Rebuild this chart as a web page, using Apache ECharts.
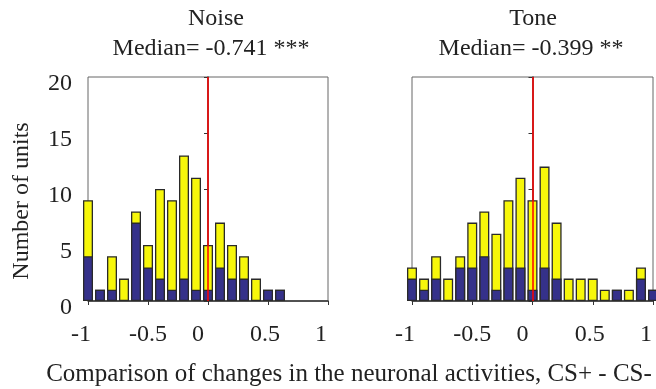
<!DOCTYPE html>
<html>
<head>
<meta charset="utf-8">
<script src="https://cdn.jsdelivr.net/npm/echarts@6/dist/echarts.min.js"></script>
<style>
  html, body { margin: 0; padding: 0; background: #fff; }
  #chart { width: 656px; height: 389px; }
</style>
</head>
<body>
<div id="chart"></div>
<script>
// bin centres and counts (yellow = all units, navy = part of them)
const noiseBins = [-1, -0.9, -0.8, -0.7, -0.6, -0.5, -0.4, -0.3, -0.2, -0.1, 0, 0.1, 0.2, 0.3, 0.4, 0.5, 0.6];
const noiseTotal = [9, 1, 4, 2, 8, 5, 10, 9, 13, 11, 5, 7, 5, 4, 2, 1, 1];
const noiseNavy = [4, 1, 1, 0, 7, 3, 2, 1, 2, 1, 1, 3, 2, 2, 0, 1, 1];

const toneBins = [-1, -0.9, -0.8, -0.7, -0.6, -0.5, -0.4, -0.3, -0.2, -0.1, 0, 0.1, 0.2, 0.3, 0.4, 0.5, 0.6, 0.7, 0.8, 0.9, 1];
const toneTotal = [3, 2, 4, 2, 4, 7, 8, 6, 9, 11, 9, 12, 7, 2, 2, 2, 1, 1, 1, 3, 1];
const toneNavy = [2, 1, 2, 0, 3, 3, 4, 1, 3, 3, 1, 3, 2, 0, 0, 0, 0, 1, 0, 2, 1];

const xTickLabels = ["-1", "-0.5", "0", "0.5", "1"];
const yTickLabels = ["0", "5", "10", "15", "20"];
const refLine = 0;

const titles = ["Noise", "Tone"];
const medians = ["Median= -0.741 ***", "Median= -0.399 **"];

const font = "'Liberation Serif', 'DejaVu Serif', serif";
const fs = 24;
const yellow = "#f7f70a";
const navy = "#35318a";
const edge = "#2a2a2a";

// the original tick labels sit a little off their ticks
const labelShift = [-7, 0, -10, -3, -7];
const rich = {};
labelShift.forEach((d, i) => {
  rich["s" + i] = {
    fontFamily: font, fontSize: fs, color: "#222",
    padding: d < 0 ? [0, -2 * d, 0, 0] : [0, 0, 0, 2 * d]
  };
});
const yRich = {
  t: { fontFamily: font, fontSize: fs, color: "#222", padding: [14, 0, 0, 0] }
};

function pairs(bins, vals) {
  return bins.map((b, i) => [b, vals[i] === 0 ? null : vals[i]]);
}

function xAxis(gi) {
  return {
    gridIndex: gi, type: "value", min: -1, max: 1, interval: 0.5,
    axisLine: { show: true, onZero: false, lineStyle: { color: "#333", width: 1.5 } },
    axisTick: { show: true, length: 4, lineStyle: { color: "#333" } },
    splitLine: { show: false },
    axisLabel: {
      margin: 22,
      formatter: (v) => {
        const i = Math.round((v + 1) / 0.5);
        return "{s" + i + "|" + xTickLabels[i] + "}";
      },
      rich: rich
    }
  };
}

function yAxis(gi, showLabels) {
  return {
    gridIndex: gi, type: "value", min: 0, max: 20, interval: 5,
    name: showLabels ? "Number of units" : "",
    nameLocation: "middle", nameRotate: 90, nameGap: 54,
    nameTextStyle: { fontFamily: font, fontSize: fs, color: "#222", padding: [0, 24, 0, 0] },
    axisLine: { show: true, lineStyle: { color: "#333", width: 1.5 } },
    axisTick: { show: true, length: 4, lineStyle: { color: "#333" } },
    splitLine: { show: false },
    axisLabel: {
      show: showLabels, margin: 16,
      formatter: (v) => "{t|" + yTickLabels[Math.round(v / 5)] + "}",
      rich: yRich
    }
  };
}

function histSeries(gi, bins, total, part) {
  return [
    {
      type: "bar", xAxisIndex: gi, yAxisIndex: gi, z: 2,
      data: pairs(bins, total), barWidth: 10, barGap: "-100%",
      itemStyle: { color: yellow, borderColor: edge, borderWidth: 1.3 },
      markLine: {
        silent: true, symbol: "none", label: { show: false },
        lineStyle: { color: "#ff0000", width: 1.5, type: "solid" },
        data: [{ xAxis: refLine }]
      }
    },
    {
      type: "bar", xAxisIndex: gi, yAxisIndex: gi, z: 3,
      data: pairs(bins, part), barWidth: 10, barGap: "-100%",
      itemStyle: { color: navy, borderColor: edge, borderWidth: 1.3 }
    }
  ];
}

const txt = { fontFamily: font, fontSize: fs, fontWeight: "normal", color: "#222" };

const chart = echarts.init(document.getElementById("chart"), null, { renderer: "canvas" });
chart.setOption({
  animation: false,
  textStyle: { fontFamily: font },
  title: [
    { text: titles[0], left: 211, top: 2, textAlign: "center", textStyle: txt },
    { text: medians[0], left: 206, top: 32, textAlign: "center", textStyle: txt },
    { text: titles[1], left: 528, top: 2, textAlign: "center", textStyle: txt },
    { text: medians[1], left: 526, top: 32, textAlign: "center", textStyle: txt },
    { text: "Comparison of changes in the neuronal activities, CS+ - CS-", left: 344, top: 357, textAlign: "center", textStyle: Object.assign({}, txt, { fontSize: 25 }) }
  ],
  grid: [
    { left: 88, top: 77, width: 240, height: 224, show: true, borderColor: "#666", borderWidth: 1 },
    { left: 412, top: 77, width: 241, height: 224, show: true, borderColor: "#666", borderWidth: 1 }
  ],
  xAxis: [xAxis(0), xAxis(1)],
  yAxis: [yAxis(0, true), yAxis(1, false)],
  series: [
    ...histSeries(0, noiseBins, noiseTotal, noiseNavy),
    ...histSeries(1, toneBins, toneTotal, toneNavy)
  ]
});
</script>
</body>
</html>
